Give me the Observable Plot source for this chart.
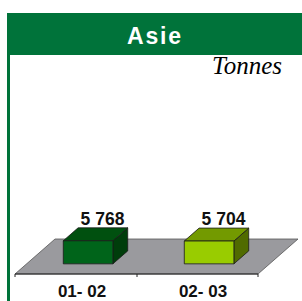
<!DOCTYPE html>
<html><head><meta charset="utf-8">
<script src="https://cdn.jsdelivr.net/npm/d3@7"></script>
<script src="https://cdn.jsdelivr.net/npm/@observablehq/plot@0.6"></script>
<style>
body{margin:0;background:#fff;}
#wrap{position:relative;width:302px;height:301px;overflow:hidden;background:#fff;}
#vline{position:absolute;left:7px;top:13px;width:3px;height:288px;background:#00733a;}
#title{position:absolute;left:8px;top:13px;width:294px;height:40px;padding-top:2px;background:#00733a;color:#fff;
  font-family:"Liberation Sans",Arial,sans-serif;font-weight:bold;font-size:23px;letter-spacing:1.8px;text-align:center;line-height:42px;}
#unit{position:absolute;right:20px;top:53px;font-family:"Liberation Serif","Times New Roman",serif;font-style:italic;font-size:25px;line-height:25px;color:#000;}
#chart{position:absolute;left:0;top:55px;}
</style></head>
<body>
<div id="wrap">
  <div id="vline"></div>
  <div id="title">Asie</div>
  <div id="chart"></div>
  <div id="unit">Tonnes</div>
</div>
<script>
const categories = ["01- 02", "02- 03"];
const values = [5768, 5704];
const valueLabels = ["5 768", "5 704"];
const title = "Asie";
const unit = "Tonnes";

const faceColors = [
  {front: "#00641a", top: "#00500f", side: "#003d0b"},
  {front: "#99cc00", top: "#739a00", side: "#506b00"}
];
const data = categories.map((c, i) => ({cat: c, value: values[i], label: valueLabels[i], colors: faceColors[i]}));

// 3D depth vector (full floor depth) in pixels
const DEPTH = [40, -35];
const D0 = 0.29, D1 = 0.66, BAR_FRAC = 0.41;

function scene(index, scales) {
  const x = scales.x, y = scales.y;
  const g = d3.create("svg:g");
  const [xa, xb] = x.range();
  const y0 = y(0);
  const pt = (px, py, d) => [px + DEPTH[0] * d, py + DEPTH[1] * d];
  const poly = (pts) => pts.map(p => p.join(",")).join(" ");
  // floor
  g.append("polygon")
    .attr("points", poly([pt(xa, y0, 0), pt(xb, y0, 0), pt(xb, y0, 1), pt(xa, y0, 1)]))
    .attr("fill", "#9a9a9e").attr("stroke", "#555").attr("stroke-width", 0.8);
  // axis line + ticks
  g.append("line").attr("x1", xa).attr("x2", xb).attr("y1", y0).attr("y2", y0)
    .attr("stroke", "#222").attr("stroke-width", 1);
  const tickXs = [xa, ...categories.slice(1).map(c => x(c)), xb];
  for (const tx of tickXs) {
    g.append("line").attr("x1", tx).attr("x2", tx).attr("y1", y0).attr("y2", y0 + 3)
      .attr("stroke", "#222").attr("stroke-width", 1);
  }
  const bw = x.bandwidth();
  for (const d of data) {
    const left = x(d.cat) + bw * (1 - BAR_FRAC) / 2;
    const right = left + bw * BAR_FRAC;
    const yt = y(d.value);
    const fTL = pt(left, yt, D0), fTR = pt(right, yt, D0), fBR = pt(right, y0, D0), fBL = pt(left, y0, D0);
    const bTL = pt(left, yt, D1), bTR = pt(right, yt, D1), bBR = pt(right, y0, D1);
    g.append("polygon").attr("points", poly([fTR, bTR, bBR, fBR]))
      .attr("fill", d.colors.side).attr("stroke", "#1a1a1a").attr("stroke-width", 0.8).attr("stroke-linejoin", "round");
    g.append("polygon").attr("points", poly([fTL, fTR, bTR, bTL]))
      .attr("fill", d.colors.top).attr("stroke", "#1a1a1a").attr("stroke-width", 0.8).attr("stroke-linejoin", "round");
    g.append("polygon").attr("points", poly([fTL, fTR, fBR, fBL]))
      .attr("fill", d.colors.front).attr("stroke", "#1a1a1a").attr("stroke-width", 0.8).attr("stroke-linejoin", "round");
  }
  return g.node();
}

const chart = Plot.plot({
  width: 302,
  height: 246,
  style: {background: "transparent", overflow: "visible"},
  x: {type: "band", domain: categories, range: [15, 258], paddingInner: 0, paddingOuter: 0, axis: null},
  y: {domain: [0, 40000], range: [219, 59], axis: null},
  marks: [
    scene,
    Plot.text(data, {x: "cat", y: "value", text: "label", dx: 25.5, dy: -26.6, lineAnchor: "bottom",
      fontFamily: "Liberation Sans, Arial, sans-serif", fontWeight: "bold", fontSize: 17.5, fill: "#111"}),
    Plot.text(data, {x: "cat", y: () => 0, text: "cat", dx: 5, dy: 22, lineAnchor: "bottom",
      fontFamily: "Liberation Sans, Arial, sans-serif", fontWeight: "bold", fontSize: 17, fill: "#111"})
  ]
});
document.getElementById("chart").appendChild(chart);
document.getElementById("title").textContent = title;
document.getElementById("unit").textContent = unit;
</script>
</body></html>
